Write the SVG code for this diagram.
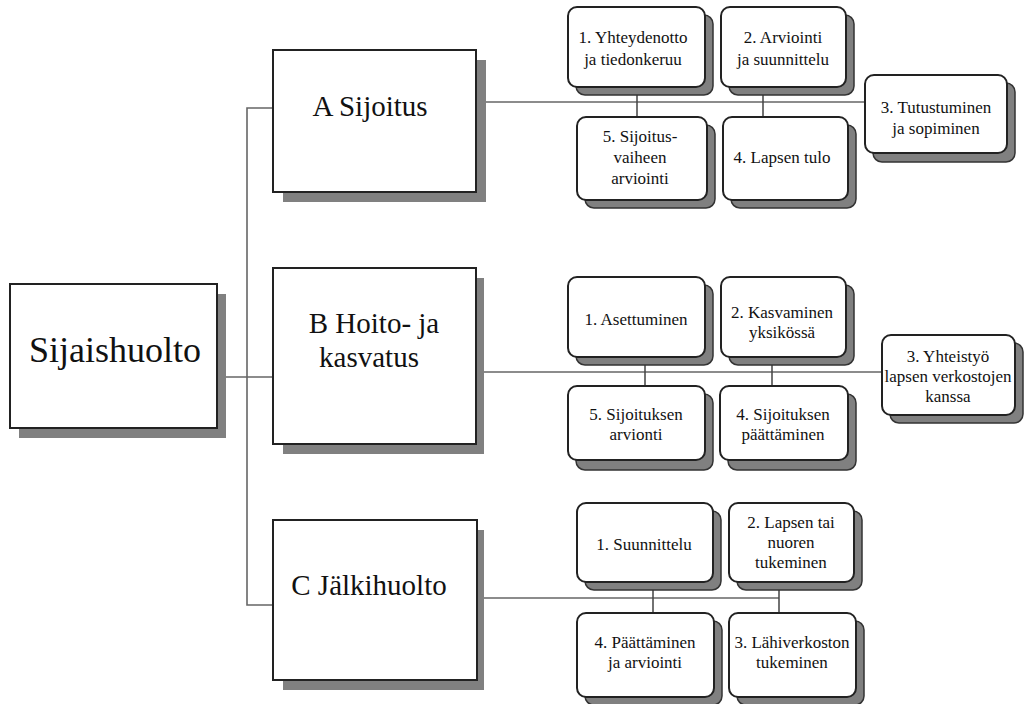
<svg xmlns="http://www.w3.org/2000/svg" width="1025" height="704" viewBox="0 0 1025 704">
<style>
.bg{fill:#fff}
.main{fill:#fff;stroke:#222;stroke-width:2}
.msh{fill:#808080}
.sub{fill:#fff;stroke:#222;stroke-width:2}
.ssh{fill:#808080;stroke:#333;stroke-width:1.5}
.ln{fill:none;stroke:#666;stroke-width:1.6}
.vl{fill:none;stroke:#444;stroke-width:1.5}
text{fill:#111;text-anchor:middle;font-family:'Liberation Serif','Times New Roman',serif}
.t1{font-size:36px}
.t2{font-size:29px}
.t3{font-size:17px}
</style>
<rect class="bg" x="0" y="0" width="1025" height="704"/>
<g id="connectors">
<path class="ln" d="M217 377 H273"/>
<path class="ln" d="M273 108 H247 V605 H273"/>
<path class="ln" d="M476 102 H865"/>
<path class="ln" d="M476 372 H882"/>
<path class="ln" d="M477 598 H779"/>
<path class="vl" d="M637 87 V117 M763 87 V117"/>
<path class="vl" d="M645 357 V386 M772 357 V386"/>
<path class="vl" d="M653 582 V613 M779 582 V613"/>
</g>
<g id="n-sijaishuolto">
<rect class="msh" x="19" y="294" width="207" height="144"/>
<rect class="main" x="10" y="284" width="207" height="144"/>
<text class="t1" x="115" y="362">Sijaishuolto</text>
</g>
<g id="n-a">
<rect class="msh" x="283" y="60" width="203" height="142"/>
<rect class="main" x="273" y="50" width="203" height="142"/>
<text class="t2" x="370" y="116">A Sijoitus</text>
</g>
<g id="n-b">
<rect class="msh" x="283" y="278" width="201" height="176"/>
<rect class="main" x="273" y="268" width="203" height="176"/>
<text class="t2" x="374" y="333">B Hoito- ja</text>
<text class="t2" x="369" y="367">kasvatus</text>
</g>
<g id="n-c">
<rect class="msh" x="283" y="530" width="201" height="160"/>
<rect class="main" x="273" y="520" width="204" height="160"/>
<text class="t2" x="369" y="595">C Jälkihuolto</text>
</g>
<g id="a1">
<rect class="ssh" x="576" y="15" width="137" height="80" rx="9"/>
<rect class="sub" x="568" y="7" width="137" height="80" rx="9"/>
<text class="t3" x="633" y="43">1. Yhteydenotto</text>
<text class="t3" x="633" y="65">ja tiedonkeruu</text>
</g>
<g id="a2">
<rect class="ssh" x="729" y="15" width="125" height="80" rx="9"/>
<rect class="sub" x="721" y="7" width="125" height="80" rx="9"/>
<text class="t3" x="783" y="43">2. Arviointi</text>
<text class="t3" x="783" y="65">ja suunnittelu</text>
</g>
<g id="a3">
<rect class="ssh" x="873" y="83" width="142" height="79" rx="9"/>
<rect class="sub" x="865" y="75" width="142" height="78" rx="9"/>
<text class="t3" x="936" y="113">3. Tutustuminen</text>
<text class="t3" x="936" y="134">ja sopiminen</text>
</g>
<g id="a4">
<rect class="ssh" x="731" y="125" width="125" height="83" rx="9"/>
<rect class="sub" x="723" y="117" width="125" height="83" rx="9"/>
<text class="t3" x="782" y="163">4. Lapsen tulo</text>
</g>
<g id="a5">
<rect class="ssh" x="585" y="125" width="130" height="83" rx="9"/>
<rect class="sub" x="577" y="117" width="130" height="83" rx="9"/>
<text class="t3" x="640" y="142">5. Sijoitus-</text>
<text class="t3" x="640" y="163">vaiheen</text>
<text class="t3" x="640" y="184">arviointi</text>
</g>
<g id="b1">
<rect class="ssh" x="576" y="285" width="137" height="80" rx="9"/>
<rect class="sub" x="568" y="277" width="137" height="80" rx="9"/>
<text class="t3" x="636" y="325">1. Asettuminen</text>
</g>
<g id="b2">
<rect class="ssh" x="729" y="285" width="125" height="80" rx="9"/>
<rect class="sub" x="721" y="277" width="125" height="80" rx="9"/>
<text class="t3" x="782" y="318">2. Kasvaminen</text>
<text class="t3" x="782" y="338">yksikössä</text>
</g>
<g id="b3">
<rect class="ssh" x="890" y="343" width="133" height="80" rx="9"/>
<rect class="sub" x="882" y="335" width="133" height="80" rx="9"/>
<text class="t3" x="948" y="362">3. Yhteistyö</text>
<text class="t3" x="948" y="382">lapsen verkostojen</text>
<text class="t3" x="948" y="402">kanssa</text>
</g>
<g id="b4">
<rect class="ssh" x="728" y="394" width="128" height="76" rx="9"/>
<rect class="sub" x="720" y="386" width="128" height="74" rx="9"/>
<text class="t3" x="783" y="420">4. Sijoituksen</text>
<text class="t3" x="783" y="440">päättäminen</text>
</g>
<g id="b5">
<rect class="ssh" x="576" y="394" width="137" height="76" rx="9"/>
<rect class="sub" x="568" y="386" width="137" height="74" rx="9"/>
<text class="t3" x="636" y="420">5. Sijoituksen</text>
<text class="t3" x="636" y="440">arvionti</text>
</g>
<g id="c1">
<rect class="ssh" x="585" y="511" width="136" height="79" rx="9"/>
<rect class="sub" x="577" y="503" width="136" height="79" rx="9"/>
<text class="t3" x="644" y="550">1. Suunnittelu</text>
</g>
<g id="c2">
<rect class="ssh" x="737" y="511" width="125" height="79" rx="9"/>
<rect class="sub" x="729" y="503" width="125" height="79" rx="9"/>
<text class="t3" x="791" y="528">2. Lapsen tai</text>
<text class="t3" x="791" y="548">nuoren</text>
<text class="t3" x="791" y="568">tukeminen</text>
</g>
<g id="c3">
<rect class="ssh" x="737" y="621" width="127" height="84" rx="9"/>
<rect class="sub" x="729" y="613" width="127" height="84" rx="9"/>
<text class="t3" x="792" y="648">3. Lähiverkoston</text>
<text class="t3" x="792" y="668">tukeminen</text>
</g>
<g id="c4">
<rect class="ssh" x="585" y="621" width="137" height="84" rx="9"/>
<rect class="sub" x="577" y="613" width="137" height="84" rx="9"/>
<text class="t3" x="645" y="648">4. Päättäminen</text>
<text class="t3" x="645" y="668">ja arviointi</text>
</g>
</svg>
